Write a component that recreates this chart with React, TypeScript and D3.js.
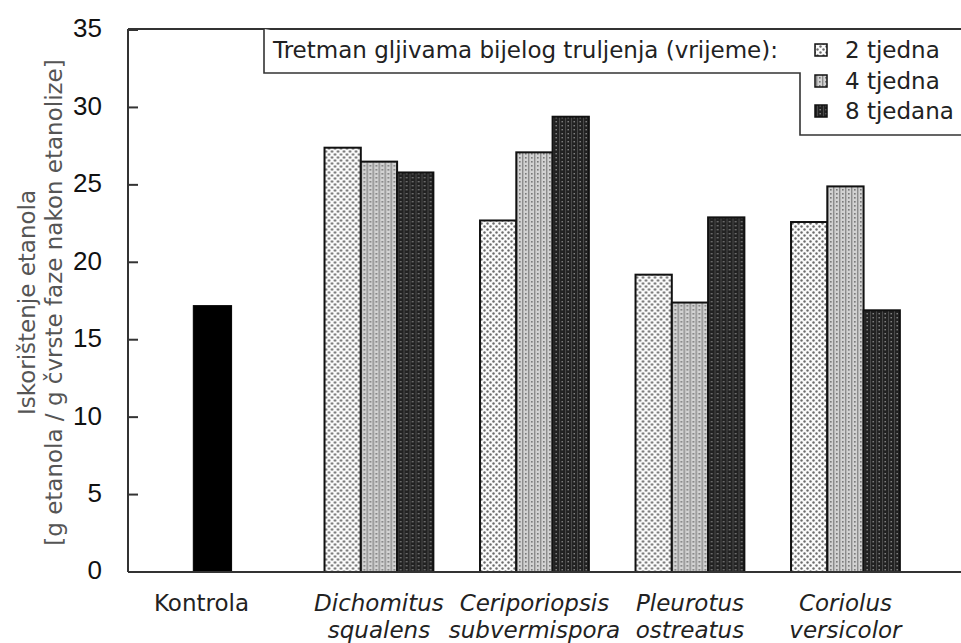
import React from "react";
import * as d3 from "d3";

// data
const categories = ["Kontrola", "Dichomitus squalens", "Ceriporiopsis subvermispora", "Pleurotus ostreatus", "Coriolus versicolor"];
const categoryLines = [["Kontrola"], ["Dichomitus", "squalens"], ["Ceriporiopsis", "subvermispora"], ["Pleurotus", "ostreatus"], ["Coriolus", "versicolor"]];
const fungi = categories.slice(1);
const seriesNames = ["2 tjedna", "4 tjedna", "8 tjedana"];
const controlValue = 17.2;
const week2 = [27.4, 22.7, 19.2, 22.6];
const week4 = [26.5, 27.1, 17.4, 24.9];
const week8 = [25.8, 29.4, 22.9, 16.9];
const yTicks = [0, 5, 10, 15, 20, 25, 30, 35];
const legendTitle = "Tretman gljivama bijelog truljenja (vrijeme):";
const yTitle = ["Iskorištenje etanola", "[g etanola / g čvrste faze nakon etanolize]"];

const W = 961;
const H = 643;
const margin = { top: 29, right: 0, bottom: 71, left: 128 };
const font = "'DejaVu Sans', Verdana, sans-serif";
const fs = 23;

const App = () => {
  const bottom = H - margin.bottom;

  const x = d3.scaleBand().domain(categories).range([145.7, 923.2]).paddingInner(0.3).paddingOuter(0.15);
  const x1 = d3.scaleBand().domain(seriesNames).range([0, x.bandwidth()]);
  const y = d3.scaleLinear().domain([0, 35]).range([bottom, margin.top + 1]);

  const values = [week2, week4, week8];
  const patternIds = ["pat2", "pat4", "pat8"];

  // legend geometry
  const legX = 264;
  const stepX = 800;
  const legRows = [50, 81, 111];
  const midY = (margin.top + bottom) / 2 + 2;

  // control bar sits a little left of its band centre in the original
  const ctrlX = x(categories[0])! + x.bandwidth() / 2 - x1.bandwidth() / 2 - 12;

  return (
    <svg width={W} height={H} style={{ position: "absolute", left: 0, top: 0, background: "#fff" }}>
      <defs>
        {/* 2 weeks: white with grey dots */}
        <pattern id="pat2" width={6} height={6} patternUnits="userSpaceOnUse">
          <rect width={6} height={6} fill="#fbfbfb" />
          <circle cx={1.5} cy={1.5} r={1.2} fill="#6a6a6a" />
          <circle cx={4.5} cy={4.5} r={1.2} fill="#6a6a6a" />
        </pattern>
        {/* 4 weeks: light grey grid */}
        <pattern id="pat4" width={6} height={4} patternUnits="userSpaceOnUse">
          <rect width={6} height={4} fill="#d2d2d2" />
          <rect x={0} width={1.4} height={4} fill="#8a8a8a" />
          <rect x={3} y={1} width={1.6} height={1.6} fill="#777" />
        </pattern>
        {/* 8 weeks: dark with light dots */}
        <pattern id="pat8" width={6} height={4} patternUnits="userSpaceOnUse">
          <rect width={6} height={4} fill="#222" />
          <rect x={1} width={1} height={4} fill="#4a4a4a" />
          <rect x={3.5} y={1} width={1.4} height={1.4} fill="#8a8a8a" />
        </pattern>
      </defs>

      {/* y axis title */}
      <g fill="#555" fontFamily={font} fontSize={fs}>
        <text transform={`translate(35,${midY}) rotate(-90)`} textAnchor="middle">{yTitle[0]}</text>
        <text transform={`translate(62,${midY}) rotate(-90)`} textAnchor="middle">{yTitle[1]}</text>
      </g>

      {/* y ticks */}
      {yTicks.map((t) => (
        <g key={t}>
          <line x1={margin.left} x2={margin.left + 10} y1={y(t)} y2={y(t)} stroke="#333" strokeWidth={2} />
          <text x={102} y={y(t) - 2} dy="0.36em" textAnchor="end" fontFamily="'Liberation Sans', Arial, sans-serif" fontSize={26} fill="#111">
            {t}
          </text>
        </g>
      ))}

      {/* control bar */}
      <rect
        x={ctrlX}
        y={y(controlValue)}
        width={x1.bandwidth() + 2}
        height={bottom - y(controlValue)}
        fill="#000"
        stroke="#000"
      />

      {/* fungal treatment bars */}
      {fungi.map((f, i) => (
        <g key={f} transform={`translate(${x(f)},0)`}>
          {seriesNames.map((s, k) => (
            <rect
              key={s}
              x={x1(s)}
              y={y(values[k][i])}
              width={x1.bandwidth()}
              height={bottom - y(values[k][i])}
              fill={`url(#${patternIds[k]})`}
              stroke="#111"
              strokeWidth={2}
            />
          ))}
        </g>
      ))}

      {/* frame */}
      <g stroke="#333" strokeWidth={2} fill="none">
        <line x1={margin.left} x2={W} y1={margin.top} y2={margin.top} />
        <line x1={margin.left} x2={margin.left} y1={margin.top} y2={bottom} />
        <line x1={margin.left} x2={W} y1={bottom} y2={bottom} />
      </g>

      {/* category labels */}
      {categories.map((c, i) => (
        <text
          key={c}
          textAnchor="middle"
          fontFamily={font}
          fontSize={fs}
          fill="#222"
          fontStyle={i === 0 ? "normal" : "italic"}
        >
          {categoryLines[i].map((line, j) => (
            <tspan key={j} x={x(c)! + x.bandwidth() / 2 - (i === 0 ? 22 : 0)} y={611 + j * 27}>
              {line}
            </tspan>
          ))}
        </text>
      ))}

      {/* legend */}
      <path
        d={`M${legX},${margin.top} V73 H${stepX} V135 H${W + 2}`}
        fill="#fff"
        stroke="#333"
        strokeWidth={1.6}
      />
      <text x={273} y={58} fontFamily={font} fontSize={fs} fill="#222">
        {legendTitle}
      </text>
      {seriesNames.map((s, k) => (
        <g key={s}>
          <rect x={815} y={legRows[k] - 6} width={12} height={12} fill={`url(#${patternIds[k]})`} stroke="#111" strokeWidth={1.5} />
          <text x={845} y={legRows[k]} dy="0.36em" fontFamily={font} fontSize={fs} fill="#222">
            {s}
          </text>
        </g>
      ))}
    </svg>
  );
};

export default App;
